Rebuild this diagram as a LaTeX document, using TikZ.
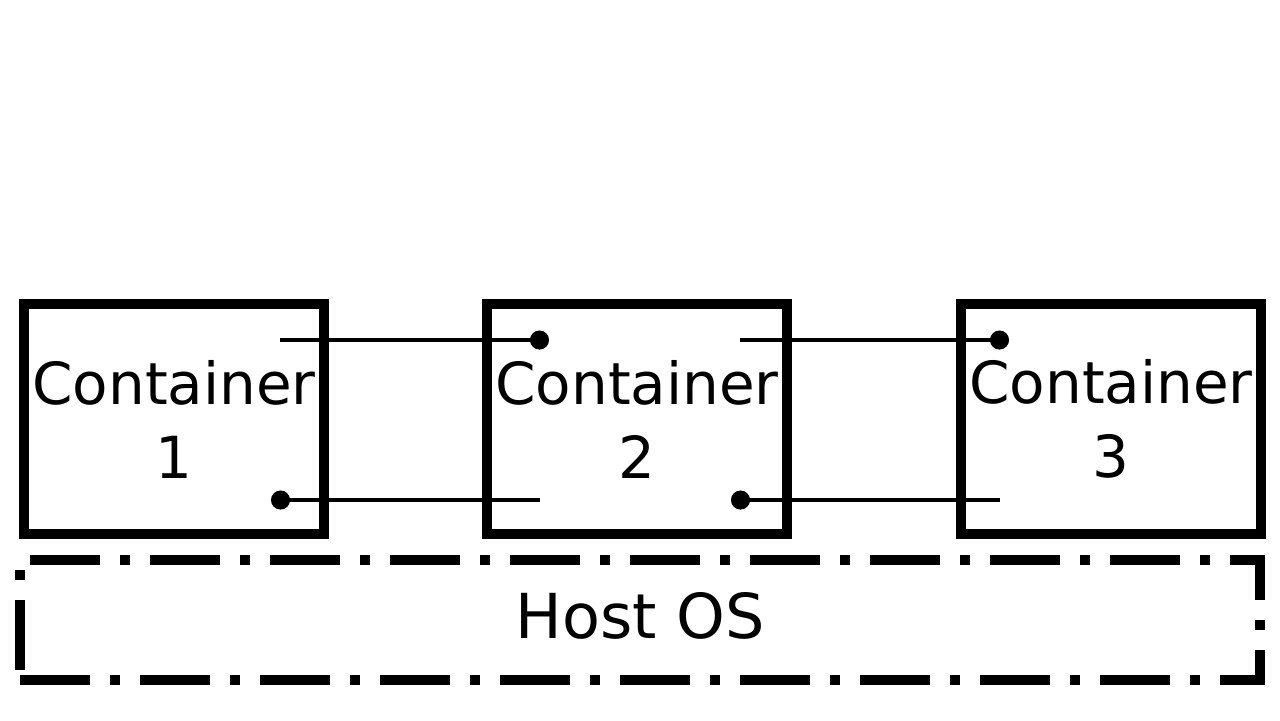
\documentclass[tikz,border=0pt]{standalone}
\usepackage{fontspec}
\setmainfont{DejaVu Sans}
\usetikzlibrary{arrows.meta}

\begin{document}
\begin{tikzpicture}[
    x=0.5pt, y=-0.5pt,
    container/.style={draw, line width=5pt, minimum width=150pt, minimum height=115pt, inner sep=0pt, align=center, font=\fontsize{29pt}{37pt}\selectfont},
    hostbox/.style={draw, line width=5pt, dash pattern=on 35pt off 10pt on 5pt off 10pt, minimum width=620pt, minimum height=60pt, inner sep=0pt, text depth=5pt, font=\fontsize{31pt}{38pt}\selectfont},
    link/.style={line width=2.2pt, -{Circle[length=9.5pt]}}
]
\useasboundingbox (0,0) rectangle (1280,720);
\node[container] (c1) at (174,419) {Container\\1};
\node[container] (c2) at (637,419) {Container\\2};
\node[container] (c3) at (1111,419) {Container\\3};
\node[hostbox] (host) at (640,620) {Host OS};
% link end points
\coordinate (a1) at (280,340);
\coordinate (b2) at (549,340);
\coordinate (a2) at (271,500);
\coordinate (b1) at (540,500);
\coordinate (a3) at (740,340);
\coordinate (b3) at (1009,340);
\coordinate (a4) at (731,500);
\coordinate (b4) at (1000,500);
\draw[link] (a1) -- (b2);
\draw[link] (b1) -- (a2);
\draw[link] (a3) -- (b3);
\draw[link] (b4) -- (a4);
\end{tikzpicture}
\end{document}
